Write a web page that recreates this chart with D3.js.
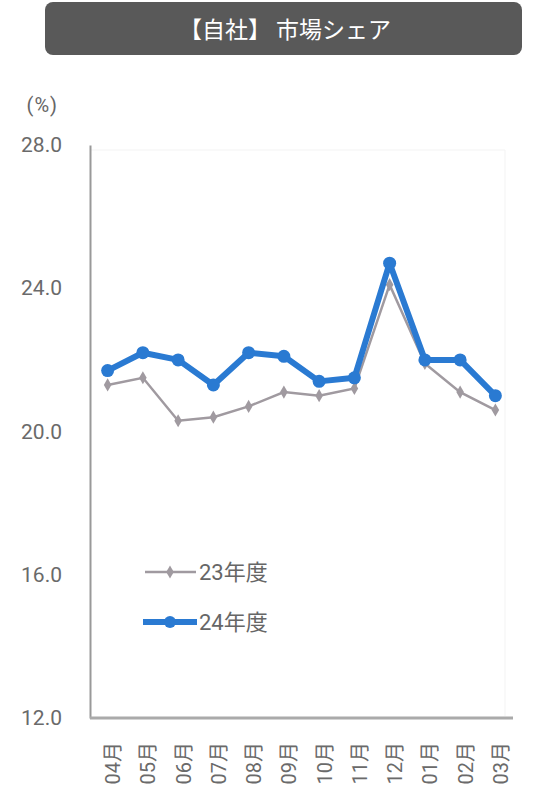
<!DOCTYPE html>
<html><head><meta charset="utf-8">
<script src="https://cdn.jsdelivr.net/npm/d3@7"></script>
<style>body{margin:0;background:#fff;} svg{display:block;font-family:Roboto,"Noto Sans CJK JP",sans-serif;}</style>
</head><body>
<script>
const months = ["04月","05月","06月","07月","08月","09月","10月","11月","12月","01月","02月","03月"];
const fy23 = [21.3,21.5,20.3,20.4,20.7,21.1,21.0,21.2,24.1,21.9,21.1,20.6];
const fy24 = [21.7,22.2,22.0,21.3,22.2,22.1,21.4,21.5,24.7,22.0,22.0,21.0];
const yTicks = [12,16,20,24,28];
const seriesNames = ["23年度","24年度"];
const title = "【自社】 市場シェア";

const W=538,H=798;
const svg=d3.select("body").append("svg").attr("width",W).attr("height",H);

// title box
svg.append("rect").attr("x",45).attr("y",2).attr("width",477).attr("height",53).attr("rx",8).attr("fill","#595959");
svg.append("text").attr("x",285).attr("y",38).attr("text-anchor","middle").attr("fill","#fff")
  .attr("font-size",23).attr("font-family","'Noto Sans CJK JP',sans-serif").text(title);

const x=d3.scalePoint().domain(months).range([90,513]).padding(0.5);
const y=d3.scaleLinear().domain([12,28]).range([718,145]);

svg.append("text").attr("x",58).attr("y",112).attr("text-anchor","end").attr("fill","#666")
  .attr("font-size",20).attr("letter-spacing",1).text("(%)");

// faint plot border
svg.append("line").attr("x1",91).attr("x2",505).attr("y1",150).attr("y2",150).attr("stroke","#f3f3f3");
svg.append("line").attr("x1",505).attr("x2",505).attr("y1",150).attr("y2",716).attr("stroke","#f3f3f3");

// y axis
const ya=svg.append("g").attr("transform","translate(90,0)")
  .call(d3.axisLeft(y).tickValues(yTicks).tickFormat(d3.format(".1f")).tickSize(0).tickPadding(28));
ya.select(".domain").attr("stroke","#999").attr("stroke-width",2);
ya.selectAll("text").attr("fill","#6a6a6a").attr("font-size",21).attr("font-family","Roboto,sans-serif");

// x axis
const xa=svg.append("g").attr("transform","translate(0,718)")
  .call(d3.axisBottom(x).tickSize(0).tickPadding(0));
xa.select(".domain").attr("d","M90,0H513").attr("stroke","#aaa").attr("stroke-width",3);
xa.selectAll("text").attr("fill","#6a6a6a").attr("font-size",20)
  .attr("font-family","Roboto,'Noto Sans CJK JP',sans-serif")
  .attr("text-anchor","end").attr("dy","0.35em")
  .attr("transform","translate(5,24) rotate(-90)");

// lines
const line=d3.line().x((d,i)=>x(months[i])).y(d=>y(d));
const g23="#a09aa0", c24="#2a7ad2";
svg.append("path").datum(fy23).attr("d",line).attr("fill","none").attr("stroke",g23).attr("stroke-width",2.5);
svg.append("g").selectAll("path").data(fy23).join("path")
  .attr("d",d3.symbol(d3.symbolDiamond,50)).attr("fill",g23)
  .attr("transform",(d,i)=>`translate(${x(months[i])},${y(d)})`);
svg.append("path").datum(fy24).attr("d",line).attr("fill","none").attr("stroke",c24).attr("stroke-width",6).attr("stroke-linejoin","round");
svg.append("g").selectAll("circle").data(fy24).join("circle")
  .attr("cx",(d,i)=>x(months[i])).attr("cy",d=>y(d)).attr("r",6.5).attr("fill",c24);

// legend
const lg=svg.append("g");
lg.append("line").attr("x1",145).attr("x2",196).attr("y1",572).attr("y2",572).attr("stroke",g23).attr("stroke-width",2.5);
lg.append("path").attr("d",d3.symbol(d3.symbolDiamond,50)).attr("fill",g23).attr("transform","translate(170,572)");
lg.append("text").attr("x",199).attr("y",572).attr("dy","0.35em").attr("fill","#666").attr("font-size",22).text(seriesNames[0]);
lg.append("line").attr("x1",143).attr("x2",197).attr("y1",622).attr("y2",622).attr("stroke",c24).attr("stroke-width",6);
lg.append("circle").attr("cx",170).attr("cy",622).attr("r",6).attr("fill",c24);
lg.append("text").attr("x",199).attr("y",622).attr("dy","0.35em").attr("fill","#666").attr("font-size",22).text(seriesNames[1]);
</script>
</body></html>
